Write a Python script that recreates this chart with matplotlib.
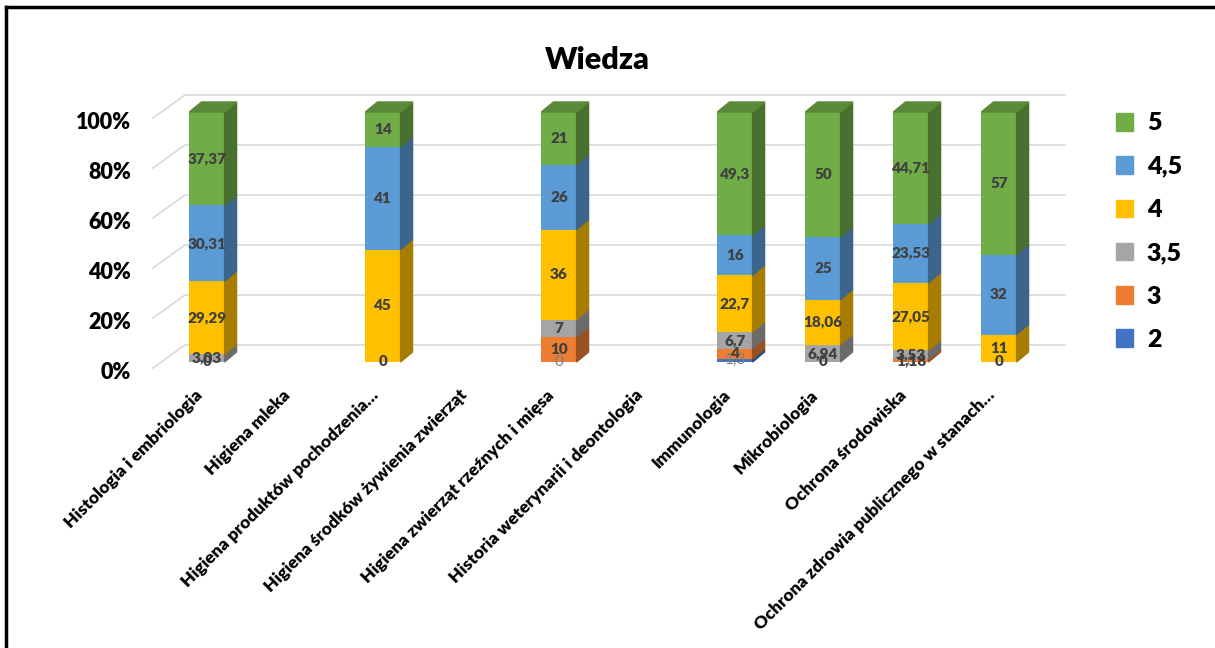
import matplotlib.pyplot as plt
import matplotlib.transforms as mtransforms
import numpy as np
from matplotlib.colors import to_rgb
from matplotlib.lines import Line2D
from matplotlib.patches import Patch, Polygon

plt.rcParams['font.family'] = ['Lato', 'DejaVu Sans']

categories = ['Histologia i embriologia', 'Higiena mleka',
              'Higiena produktów pochodzenia…',
              'Higiena środków żywienia zwierząt',
              'Higiena zwierząt rzeźnych i mięsa',
              'Historia weterynarii i deontologia', 'Immunologia',
              'Mikrobiologia', 'Ochrona środowiska',
              'Ochrona zdrowia publicznego w stanach…']

nan = np.nan
# grades, from the bottom of the stack to the top
grade_names = ['2', '3', '3,5', '4', '4,5', '5']
grade_2 = [nan, nan, nan, nan, 0, nan, 1.3, nan, 0, nan]
grade_3 = [0, nan, 0, nan, 10, nan, 4, 0, 1.18, 0]
grade_3_5 = [3.03, nan, nan, nan, 7, nan, 6.7, 6.94, 3.53, nan]
grade_4 = [29.29, nan, 45, nan, 36, nan, 22.7, 18.06, 27.05, 11]
grade_4_5 = [30.31, nan, 41, nan, 26, nan, 16, 25, 23.53, 32]
grade_5 = [37.37, nan, 14, nan, 21, nan, 49.3, 50, 44.71, 57]
series = [grade_2, grade_3, grade_3_5, grade_4, grade_4_5, grade_5]
colors = ['#4472C4', '#ED7D31', '#A5A5A5', '#FFC000', '#5B9BD5', '#70AD47']

yticks = [0, 20, 40, 60, 80, 100]


def shade(color, k):
    return tuple(c * k for c in to_rgb(color))


fig = plt.figure(figsize=(12.15, 6.48), dpi=100)
ax = fig.add_axes([163 / 1215, 1 - 362 / 648, 880 / 1215, 250 / 648])

x = np.arange(len(categories))
width = 0.4
dx, dy = 0.136, 4.0  # depth of the columns (data units)

ax.set_xlim(-0.5, 9.5)
ax.set_ylim(0, 100)

# back wall gridlines with the slanted floor part on the left
for t in yticks:
    ax.plot([-0.614, -0.25, 9.75], [t - 2.4, t + 6.8, t + 6.8],
            color='#D9D9D9', lw=1.2, zorder=0, clip_on=False)

bottom = np.zeros(len(categories))
for vals, name, col in zip(series, grade_names, colors):
    v = np.array(vals, dtype=float)
    h = np.nan_to_num(v)
    ax.bar(x, h, width, bottom=bottom, color=col, zorder=2, label=name)
    for i in range(len(x)):
        if np.isnan(v[i]):
            continue
        x1 = x[i] + width / 2
        y0, y1 = bottom[i], bottom[i] + h[i]
        if h[i] > 0:
            ax.add_patch(Polygon([(x1, y0), (x1 + dx, y0 + dy),
                                  (x1 + dx, y1 + dy), (x1, y1)],
                                 closed=True, color=shade(col, 0.65),
                                 zorder=2, clip_on=False))
        if name == '2':
            ax.text(x[i], y0 + h[i] / 2, f'{v[i]:g}'.replace('.', ','),
                    ha='center', va='center', fontsize=11,
                    color='#7F7F7F', zorder=5)
        else:
            ax.text(x[i], y0 + h[i] / 2, f'{v[i]:g}'.replace('.', ','),
                    ha='center', va='center', fontsize=11,
                    fontweight='heavy', color='#404040', zorder=5)
    bottom = bottom + h

# top faces of the columns
for i in range(len(x)):
    if bottom[i] <= 0:
        continue
    x0, x1 = x[i] - width / 2, x[i] + width / 2
    ax.add_patch(Polygon([(x0, bottom[i]), (x0 + dx, bottom[i] + dy),
                          (x1 + dx, bottom[i] + dy), (x1, bottom[i])],
                         closed=True, color=shade(colors[-1], 0.8),
                         zorder=2, clip_on=False))

for s in ax.spines.values():
    s.set_visible(False)

ax.set_yticks(yticks)
ax.set_yticklabels([f'{t}%' for t in yticks], fontsize=15.5, fontweight='heavy')
ax.tick_params(axis='y', length=0, pad=23)
shift = mtransforms.ScaledTranslation(0, -6 / 72, fig.dpi_scale_trans)
for lab in ax.get_yticklabels():
    lab.set_transform(lab.get_transform() + shift)

ax.set_xticks(x)
ax.set_xticklabels(categories, rotation=45, ha='right', va='center',
                   rotation_mode='anchor', fontsize=12.6, fontweight='heavy')
ax.tick_params(axis='x', length=0, pad=22)
xshift = mtransforms.ScaledTranslation(-5 / 72, 0, fig.dpi_scale_trans)
for lab in ax.get_xticklabels():
    lab.set_transform(lab.get_transform() + xshift)

ax.set_title('Wiedza', fontsize=22, fontweight='heavy',
             x=(597 - 163) / 880, y=1.0, pad=31)

handles = [Patch(color=c, label=n) for n, c in zip(grade_names, colors)][::-1]
fig.legend(handles=handles, loc='upper left',
           bbox_to_anchor=(1093 / 1215, 1 - 90 / 648), frameon=False,
           prop={'size': 18, 'weight': 'heavy'}, handlelength=0.7,
           handleheight=0.7, handletextpad=0.55, labelspacing=0.85)

# frame around the chart
fig.add_artist(Line2D([6 / 1215, 6 / 1215], [0, 1 - 7 / 648],
                      color='black', lw=2.5))
fig.add_artist(Line2D([6 / 1215, 1], [1 - 7 / 648, 1 - 7 / 648],
                      color='black', lw=2.5))

fig.savefig('out.png', dpi=100)
